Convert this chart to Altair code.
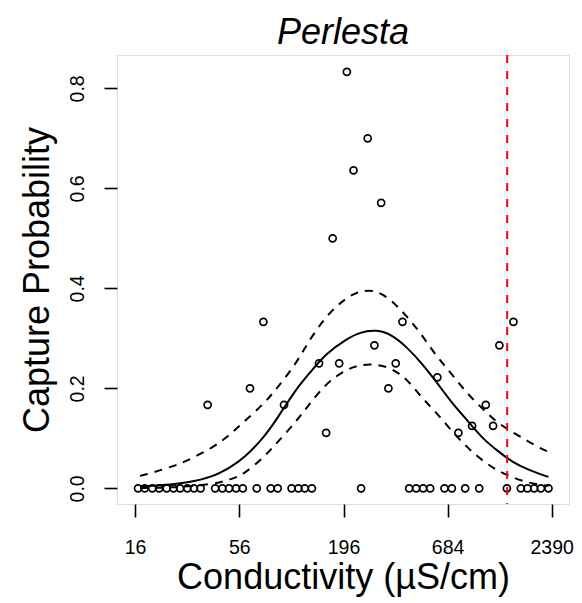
import altair as alt
import pandas as pd

# ---- data ----
# conductivity of sites with zero capture probability
zero_x = [16.6, 18.0, 19.7, 21.4, 23.4, 25.4, 27.5, 30.0, 32.5, 35.2, 41.9, 45.7,
          49.5, 53.9, 58.4, 69.1, 81.7, 88.9, 105, 114, 123, 134, 242, 431, 469,
          510, 555, 659, 720, 845, 1000, 1395, 1650, 1786, 1936, 2098, 2299]
# sites with positive capture probability
pos_x = [38.3, 63.7, 74.8, 95.9, 146, 159, 172, 186, 204, 221, 262, 284, 308,
         336, 367, 398, 605, 779, 918, 1083, 1182, 1275, 1509]
pos_y = [0.167, 0.2, 0.333, 0.167, 0.25, 0.111, 0.5, 0.25, 0.833, 0.636, 0.7,
         0.286, 0.571, 0.2, 0.25, 0.333, 0.222, 0.111, 0.125, 0.167, 0.125,
         0.286, 0.333]

# fitted curve and confidence bounds
curve_x = [17, 20, 25, 30, 40, 50, 60, 75, 90, 110, 130, 160, 200, 240, 290,
           350, 420, 500, 600, 720, 870, 1050, 1250, 1500, 1800, 2100, 2300]
fit = [0.004, 0.005, 0.008, 0.012, 0.024, 0.042, 0.064, 0.103, 0.145, 0.195,
       0.230, 0.268, 0.296, 0.311, 0.315, 0.305, 0.281, 0.250, 0.212, 0.172,
       0.135, 0.100, 0.075, 0.053, 0.038, 0.028, 0.023]
upper = [0.025, 0.032, 0.044, 0.056, 0.081, 0.108, 0.135, 0.170, 0.205, 0.250,
         0.295, 0.343, 0.378, 0.393, 0.393, 0.374, 0.343, 0.307, 0.265, 0.228,
         0.190, 0.158, 0.132, 0.112, 0.094, 0.080, 0.073]
lower = [0.0005, 0.001, 0.002, 0.004, 0.009, 0.018, 0.032, 0.063, 0.095, 0.133,
         0.168, 0.208, 0.235, 0.246, 0.247, 0.238, 0.216, 0.183, 0.150, 0.115,
         0.082, 0.055, 0.036, 0.022, 0.012, 0.007, 0.005]

threshold = [1400]

x_ticks = [16, 56, 196, 684, 2390]
y_ticks = [0.0, 0.2, 0.4, 0.6, 0.8]

FONT = "Liberation Sans"

pts = pd.DataFrame({"x": zero_x + pos_x, "y": [0.0] * len(zero_x) + pos_y})
cur = pd.DataFrame({"x": curve_x, "fit": fit, "upper": upper, "lower": lower})
thr = pd.DataFrame({"x": threshold})

xscale = alt.Scale(type="log", domain=[12.89, 2942], nice=False)
yscale = alt.Scale(domain=[-0.0313, 0.8667], nice=False, zero=False)

xaxis = alt.Axis(values=x_ticks, format="d", tickSize=13, tickWidth=1.6,
                 tickColor="black", labelFontSize=19.5, labelFont=FONT,
                 labelColor="black", labelPadding=21, domain=False, grid=False,
                 labelFlush=False, labelOverlap=False,
                 title="Conductivity (µS/cm)", titleFontSize=36, titleFont=FONT,
                 titleFontWeight="normal", titleColor="black", titleX=226,
                 titleY=84, titleBaseline="alphabetic", titleAlign="center")
yaxis = alt.Axis(values=y_ticks, format=".1f", tickSize=13, tickWidth=1.6,
                 tickColor="black", labelFontSize=19.5, labelFont=FONT,
                 labelColor="black", labelPadding=21, labelAngle=270,
                 labelAlign="center", labelBaseline="alphabetic",
                 domain=False, grid=False, labelFlush=False, labelOverlap=False,
                 title="Capture Probability", titleFontSize=36, titleFont=FONT,
                 titleFontWeight="normal", titleColor="black", titleAngle=270,
                 titleX=-69, titleY=224.5, titleBaseline="alphabetic",
                 titleAlign="center")

points = alt.Chart(pts).mark_point(shape="circle", filled=False, color="black",
                                   size=50, strokeWidth=1.7, opacity=1).encode(
    x=alt.X("x:Q", scale=xscale, axis=xaxis),
    y=alt.Y("y:Q", scale=yscale, axis=yaxis),
)

base = alt.Chart(cur)
fit_line = base.mark_line(color="black", strokeWidth=2, interpolate="natural").encode(
    x=alt.X("x:Q", scale=xscale), y=alt.Y("fit:Q", scale=yscale))
up_line = base.mark_line(color="black", strokeWidth=2, strokeDash=[8, 7],
                         interpolate="natural").encode(
    x=alt.X("x:Q", scale=xscale), y=alt.Y("upper:Q", scale=yscale))
lo_line = base.mark_line(color="black", strokeWidth=2, strokeDash=[8, 7],
                         interpolate="natural").encode(
    x=alt.X("x:Q", scale=xscale), y=alt.Y("lower:Q", scale=yscale))

rule = alt.Chart(thr).mark_rule(color="#ff0000", strokeWidth=2,
                                strokeDash=[8, 8]).encode(
    x=alt.X("x:Q", scale=xscale))

chart = alt.layer(points, up_line, lo_line, fit_line, rule).properties(
    width=452, height=449,
    title=alt.TitleParams("Perlesta", fontSize=36, fontStyle="italic", font=FONT,
                          fontWeight="normal", color="black", anchor="middle",
                          offset=2, frame="group"),
    autosize=alt.AutoSizeParams(type="none"),
    padding={"left": 109, "top": 47, "right": 5, "bottom": 98},
).configure_view(stroke="black", strokeWidth=2).configure(background="white")

chart.save("out.html", embed_options={"renderer": "svg", "actions": False})
